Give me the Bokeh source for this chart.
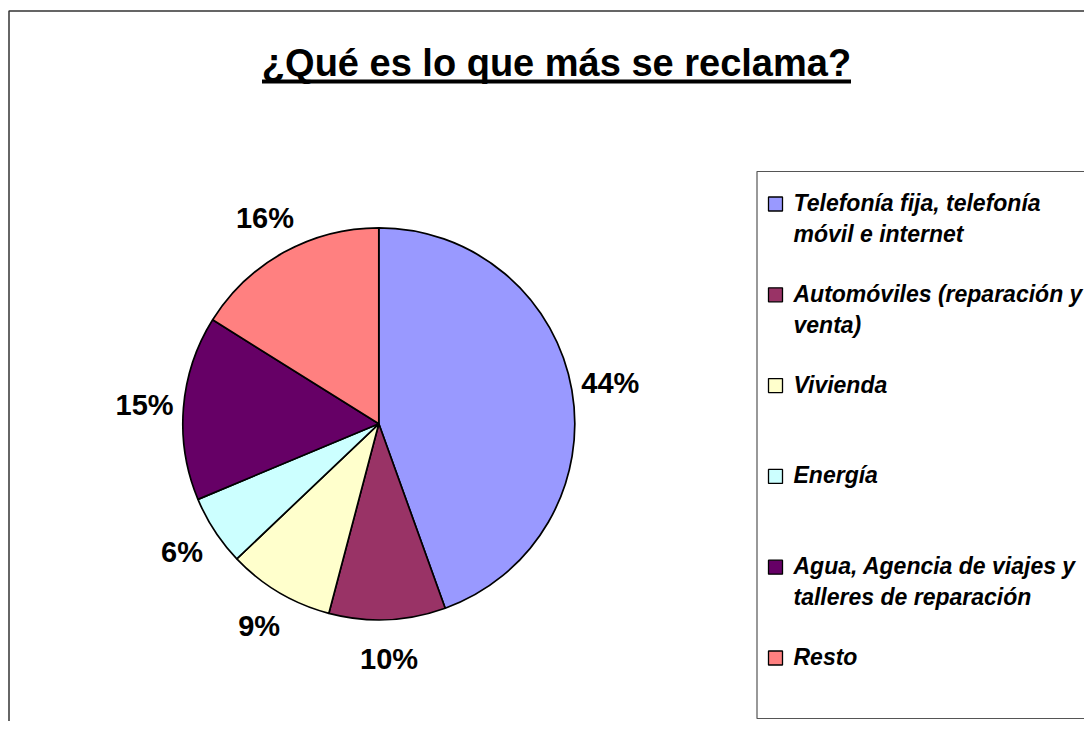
import math
from bokeh.plotting import figure
from bokeh.models import Range1d, ColumnDataSource
from bokeh.core.properties import value
from bokeh.embed import file_html
from bokeh.resources import INLINE

# ---- data ----
categories = [
    "Telefonía fija, telefonía móvil e internet",
    "Automóviles (reparación y venta)",
    "Vivienda",
    "Energía",
    "Agua, Agencia de viajes y talleres de reparación",
    "Resto",
]
legend_lines = [
    ["Telefonía fija, telefonía", "móvil e internet"],
    ["Automóviles (reparación y", "venta)"],
    ["Vivienda"],
    ["Energía"],
    ["Agua, Agencia de viajes y", "talleres de reparación"],
    ["Resto"],
]
values = [44.5, 9.6, 8.8, 5.8, 15.2, 16.1]
pct_labels = ["44%", "10%", "9%", "6%", "15%", "16%"]
colors = ["#9999FF", "#993366", "#FFFFCC", "#CCFFFF", "#660066", "#FF8080"]
title_text = "¿Qué es lo que más se reclama?"

W, H = 1084, 721
def Y(py):
    return H - py

p = figure(width=W, height=H, output_backend="svg", toolbar_location=None,
           x_range=Range1d(0, W), y_range=Range1d(0, H),
           min_border=0, outline_line_color=None)
p.axis.visible = False
p.grid.visible = False
p.background_fill_color = "white"
p.border_fill_color = "white"

# outer chart border (left + top visible)
p.line(x=[8.5, 8.5, 1100], y=[-10, Y(10.5), Y(10.5)], line_color="#333333", line_width=1.5)

# ---- pie ----
cx, cy, r = 378.3, Y(423.3), 196
total = sum(values)
starts, ends, mids = [], [], []
cum = 0.0
for v in values:
    a0 = math.pi / 2 - 2 * math.pi * cum / total
    cum += v
    a1 = math.pi / 2 - 2 * math.pi * cum / total
    starts.append(a0); ends.append(a1); mids.append((a0 + a1) / 2)

src = ColumnDataSource(dict(start=starts, end=ends, color=colors, cat=categories))
p.wedge(x=cx, y=cy, radius=r, start_angle="start", end_angle="end", direction="clock",
        fill_color="color", line_color="black", line_width=1.7, source=src)

lr = 235
lab_src = ColumnDataSource(dict(
    x=[cx + lr * math.cos(m) for m in mids],
    y=[cy + lr * math.sin(m) for m in mids],
    t=pct_labels))
p.text(x="x", y="y", text="t", source=lab_src, text_align="center", text_baseline="middle",
       text_font=value("Liberation Sans"), text_font_style="bold", text_font_size="29px",
       text_color="black")

# ---- title ----
tx, tmid, tsize = 556, 62.5, 38
p.text(x=[tx], y=[Y(tmid)], text=[title_text], text_align="center", text_baseline="middle",
       text_font=value("Liberation Sans"), text_font_style="bold", text_font_size=f"{tsize}px",
       text_color="black")
half_w = 15.5 * tsize / 2
p.line(x=[tx - half_w, tx + half_w], y=[Y(81), Y(81)], line_color="black", line_width=4)

# ---- legend ----
p.quad(left=756.5, right=1110, top=Y(171), bottom=Y(718), fill_color=None,
       line_color="#555555", line_width=1.2)
first_y = 203.5
step = 90.8
sq_y = [Y(first_y + i * step) for i in range(len(categories))]
p.rect(x=[775] * len(categories), y=sq_y, width=14, height=14, fill_color=colors,
       line_color="black", line_width=1.3)
tx_list, ty_list, tt_list = [], [], []
for i, lines in enumerate(legend_lines):
    for j, ln in enumerate(lines):
        tx_list.append(793)
        ty_list.append(Y(first_y + i * step - 1 + j * 31))
        tt_list.append(ln)
p.text(x=tx_list, y=ty_list, text=tt_list, text_align="left", text_baseline="middle",
       text_font=value("Liberation Sans"), text_font_style="bold italic", text_font_size="23px",
       text_color="black")

open("out.html", "w").write(file_html(p, INLINE))
